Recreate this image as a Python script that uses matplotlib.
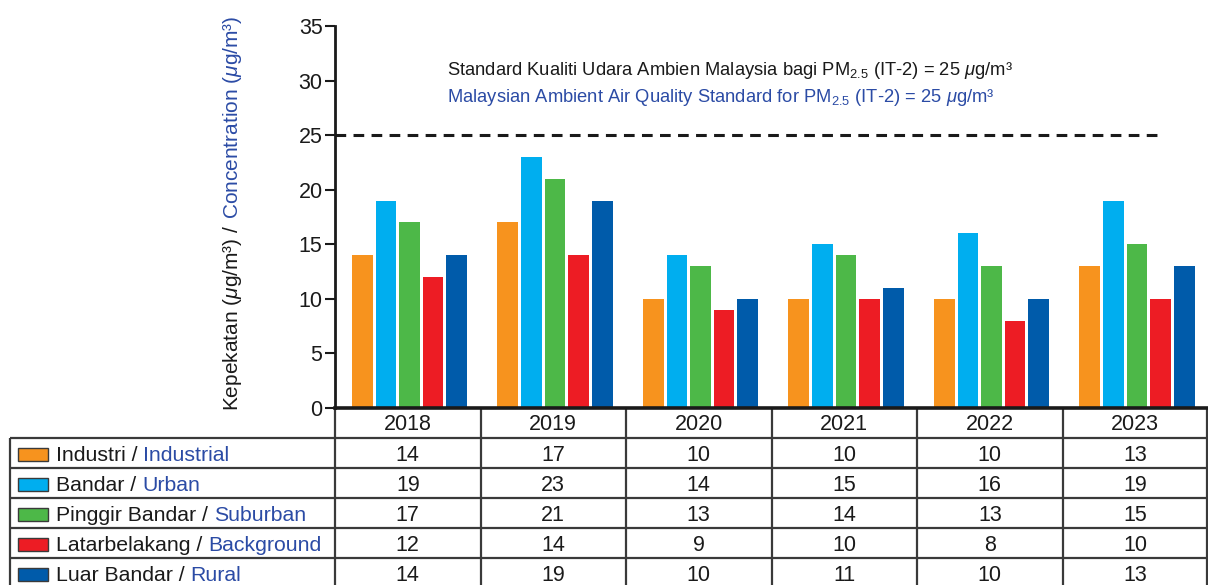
import matplotlib
matplotlib.use("Agg")
import matplotlib.pyplot as plt
from matplotlib.patches import Rectangle
import numpy as np

years = ["2018", "2019", "2020", "2021", "2022", "2023"]
labels_bm = ["Industri", "Bandar", "Pinggir Bandar", "Latarbelakang", "Luar Bandar"]
labels_en = ["Industrial", "Urban", "Suburban", "Background", "Rural"]
industrial = [14, 17, 10, 10, 10, 13]
urban = [19, 23, 14, 15, 16, 19]
suburban = [17, 21, 13, 14, 13, 15]
background = [12, 14, 9, 10, 8, 10]
rural = [14, 19, 10, 11, 10, 13]
standard = 25

series = [industrial, urban, suburban, background, rural]
colors = ["#F7931E", "#00AEEF", "#4DB848", "#ED1C24", "#005BAA"]
BLUE_TXT = "#2B4BA5"
LINE = "#3a3a3a"

W, H = 1208, 585
plt.rcParams["font.family"] = ["Liberation Sans", "DejaVu Sans"]
plt.rcParams["mathtext.fontset"] = "custom"
plt.rcParams["mathtext.rm"] = "Liberation Sans"
plt.rcParams["mathtext.it"] = "Liberation Sans:italic"

fig = plt.figure(figsize=(W / 100, H / 100), dpi=100)

# pixel-space overlay used for the table and free text
tax = fig.add_axes([0, 0, 1, 1])
tax.set_xlim(0, W)
tax.set_ylim(H, 0)
tax.axis("off")

# main bar chart
x0, x1, ytop, ybot = 335, 1208, 26, 408
ax = fig.add_axes([x0 / W, 1 - ybot / H, (x1 - x0) / W, (ybot - ytop) / H])
x = np.arange(len(years)) + 0.5
step, bw = 0.162, 0.143
for k, vals in enumerate(series):
    ax.bar(x + (k - 2) * step + 0.012, vals, width=bw, color=colors[k], zorder=2)

ax.hlines(standard, 0, 5.66, colors="#1a1a1a", linestyles=(0, (3.5, 2.4)), lw=2.2)
ax.set_xlim(0, len(years))
ax.set_ylim(0, 35)
ax.set_yticks(range(0, 36, 5))
ax.set_xticks([])
ax.tick_params(axis="y", labelsize=15.5, length=7, width=1.5, pad=2, colors="#1a1a1a")
for s in ["top", "right"]:
    ax.spines[s].set_visible(False)
ax.spines["left"].set_linewidth(2)
ax.spines["bottom"].set_linewidth(2.6)
ax.spines["left"].set_color("#1a1a1a")
ax.spines["bottom"].set_color("#1a1a1a")

# standard annotation
ax.text(0.77, 30.5, "Standard Kualiti Udara Ambien Malaysia bagi PM$_{2.5}$ (IT-2) = 25 $\\mu$g/m\u00b3",
        fontsize=13.2, color="#1a1a1a", va="baseline")
ax.text(0.77, 28.05, "Malaysian Ambient Air Quality Standard for PM$_{2.5}$ (IT-2) = 25 $\\mu$g/m\u00b3",
        fontsize=13.2, color=BLUE_TXT, va="baseline")

renderer = fig.canvas.get_renderer()

# two-colour y label
t1 = tax.text(233, 411, "Kepekatan ($\\mu$g/m\u00b3) /", rotation=90, fontsize=15,
              ha="center", va="bottom", color="#1a1a1a")
bb = t1.get_window_extent(renderer=renderer)
tax.text(233, H - bb.y1 - 6, "Concentration ($\\mu$g/m\u00b3)", rotation=90, fontsize=15,
         ha="center", va="bottom", color=BLUE_TXT)

# data table
col_edges = x0 + np.arange(len(years) + 1) * (x1 - x0) / len(years)
col_mid = (col_edges[:-1] + col_edges[1:]) / 2
row_h = 30
hdr_top = ybot
rows_top = ybot + row_h
lw = 1.6

for i, yr in enumerate(years):
    tax.text(col_mid[i], hdr_top + row_h / 2 + 2, yr, fontsize=15.5, ha="center", va="center", color="#1a1a1a")
tax.vlines(col_edges[0], hdr_top, H, color=LINE, lw=lw)
tax.vlines(col_edges[1:-1], hdr_top, H, color=LINE, lw=lw)
tax.vlines(W - 1, hdr_top, H, color=LINE, lw=lw)
tax.vlines(10, rows_top, H, color=LINE, lw=lw)
for r in range(len(series)):
    tax.hlines(rows_top + r * row_h, 10, W, color=LINE, lw=lw)

for r, vals in enumerate(series):
    yc = rows_top + r * row_h + row_h / 2 + 2.5
    tax.add_patch(Rectangle((18, yc - 8), 30, 13, facecolor=colors[r], edgecolor=LINE, lw=1))
    tb = tax.text(56, yc, labels_bm[r] + " / ", fontsize=15.3, va="center", color="#1a1a1a")
    b = tb.get_window_extent(renderer=renderer)
    tax.text(b.x1, yc, labels_en[r], fontsize=15.3, va="center", color=BLUE_TXT)
    for i, v in enumerate(vals):
        tax.text(col_mid[i], yc, str(v), fontsize=15.5, ha="center", va="center", color="#1a1a1a")

fig.savefig("out.png", dpi=100)
